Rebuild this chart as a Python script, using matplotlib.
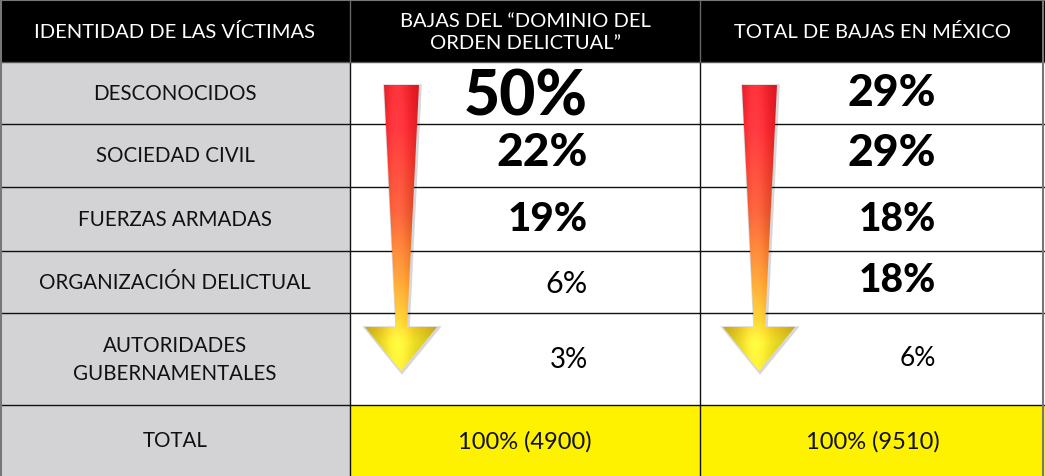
import numpy as np
import matplotlib
matplotlib.use("Agg")
import matplotlib.pyplot as plt
from matplotlib.patches import Rectangle, Polygon
from matplotlib.colors import LinearSegmentedColormap

# ---------------- data ----------------
header = ["IDENTIDAD DE LAS VÍCTIMAS",
          "BAJAS DEL “DOMINIO DEL\nORDEN DELICTUAL”",
          "TOTAL DE BAJAS EN MÉXICO"]
categories = ["DESCONOCIDOS", "SOCIEDAD CIVIL", "FUERZAS ARMADAS",
              "ORGANIZACIÓN DELICTUAL", "AUTORIDADES\nGUBERNAMENTALES"]
dominio_pct = [50, 22, 19, 6, 3]
mexico_pct = [29, 29, 18, 18, 6]
total_label = "TOTAL"
dominio_total = 4900
mexico_total = 9510

# ---------------- styling ----------------
W, H = 1045, 477
FONT = "Lato"
col_x = [0, 350, 700, 1045]
row_y = [0, 63, 125, 188, 252, 314, 406, 477]
dominio_size = [45, 33, 29, 22, 20]
dominio_bold = [True, True, True, False, False]
dominio_dy = [3, -3, 0, 1, 0]
mexico_size = [32, 32, 28, 28, 19]
mexico_bold = [True, True, True, True, False]
mexico_dy = [-1, -3, 0, -2, -1]
num_right = [588, 936]
gray = "#d3d3d5"
yellow = "#fff200"

fig = plt.figure(figsize=(W / 100, H / 100), dpi=100)
ax = fig.add_axes([0, 0, 1, 1])
ax.set_xlim(0, W)
ax.set_ylim(H, 0)
ax.axis("off")

# header
ax.add_patch(Rectangle((0, 0), W, row_y[1], facecolor="black", edgecolor="none", zorder=1))
for i, txt in enumerate(header):
    cx = (col_x[i] + col_x[i + 1]) / 2
    ax.text(cx, row_y[1] / 2 + 1, txt, ha="center", va="center", color="white",
            fontsize=14.5, family=FONT, linespacing=1.3, zorder=5)

# body backgrounds
ax.add_patch(Rectangle((0, row_y[1]), col_x[1], H - row_y[1], facecolor=gray, edgecolor="none", zorder=1))
ax.add_patch(Rectangle((col_x[1], row_y[1]), W - col_x[1], row_y[6] - row_y[1], facecolor="white", edgecolor="none", zorder=1))
ax.add_patch(Rectangle((col_x[1], row_y[6]), W - col_x[1], H - row_y[6], facecolor=yellow, edgecolor="none", zorder=1))

# arrows with gradient
cmap = LinearSegmentedColormap.from_list(
    "arr", [(0.0, "#e2161f"), (0.15, "#ec1c24"), (0.45, "#e04a22"), (0.68, "#ec8a1f"),
            (0.82, "#f0b81c"), (0.9, "#eedf22"), (1.0, "#e3d61c")])

def draw_arrow(cx):
    top, neck, tip = 86, 328, 372
    pts = [(cx - 17, top), (cx + 18, top), (cx + 6, neck), (cx + 36, neck),
           (cx, tip), (cx - 36, neck), (cx - 5, neck)]
    shadow = Polygon([(x + 1, y + 1) for x, y in pts], closed=True, facecolor="none",
                     edgecolor="#b0b0b0", lw=2.5, alpha=0.5, zorder=2)
    ax.add_patch(shadow)
    poly = Polygon(pts, closed=True, facecolor="none", edgecolor="none", zorder=3)
    ax.add_patch(poly)
    ny, nx = 300, 80
    t = np.linspace(0, 1, ny)[:, None]
    u = np.linspace(-1, 1, nx)[None, :]
    rgb = cmap(np.repeat(t, nx, axis=1))[..., :3]
    shade = 1.0 - 0.18 * u ** 2
    light = 0.12 * np.exp(-((u + 0.1) / 0.35) ** 2)
    img = np.clip(rgb * shade[..., None] + light[..., None], 0, 1)
    im = ax.imshow(img, extent=(cx - 37, cx + 37, tip, top), aspect="auto",
                   interpolation="bilinear", zorder=3)
    im.set_clip_path(poly)

draw_arrow(401)
draw_arrow(759)

# row labels and values
for r, cat in enumerate(categories):
    cy = (row_y[r + 1] + row_y[r + 2]) / 2
    ax.text(col_x[1] / 2, cy, cat, ha="center", va="center", fontsize=14.8,
            family=FONT, color="#111111", linespacing=1.5, zorder=5)
    ax.text(num_right[0], cy + dominio_dy[r], f"{dominio_pct[r]}%", ha="right", va="center",
            fontsize=dominio_size[r], family=FONT,
            weight="black" if dominio_bold[r] else "normal", color="black", zorder=5)
    ax.text(num_right[1], cy + mexico_dy[r], f"{mexico_pct[r]}%", ha="right", va="center",
            fontsize=mexico_size[r], family=FONT,
            weight="black" if mexico_bold[r] else "normal", color="black", zorder=5)

cy = (row_y[6] + row_y[7]) / 2
ax.text(col_x[1] / 2, cy, total_label, ha="center", va="center", fontsize=14.8,
        family=FONT, color="#111111", zorder=5)
ax.text((col_x[1] + col_x[2]) / 2, cy, f"100% ({dominio_total})", ha="center", va="center",
        fontsize=17, family=FONT, color="#111111", zorder=5)
ax.text((col_x[2] + col_x[3]) / 2, cy, f"100% ({mexico_total})", ha="center", va="center",
        fontsize=17, family=FONT, color="#111111", zorder=5)

# grid lines
for y in row_y[2:7]:
    ax.plot([0, W], [y, y], color="#111111", lw=1.0, zorder=2.5)
ax.plot([0, W], [row_y[1], row_y[1]], color="#555555", lw=1.0, zorder=2.5)
for x in col_x[1:3]:
    ax.plot([x, x], [row_y[1], H], color="#111111", lw=1.0, zorder=2.5)
    ax.plot([x, x], [0, row_y[1]], color="#666666", lw=1.0, zorder=2.5)
ax.plot([1, 1], [0, H], color="#777777", lw=1.5, zorder=6)
ax.plot([W - 2, W - 2], [0, H], color="#777777", lw=1.5, zorder=6)
ax.plot([0, W], [1, 1], color="#777777", lw=1.5, zorder=6)

fig.savefig("out.png", dpi=100)
